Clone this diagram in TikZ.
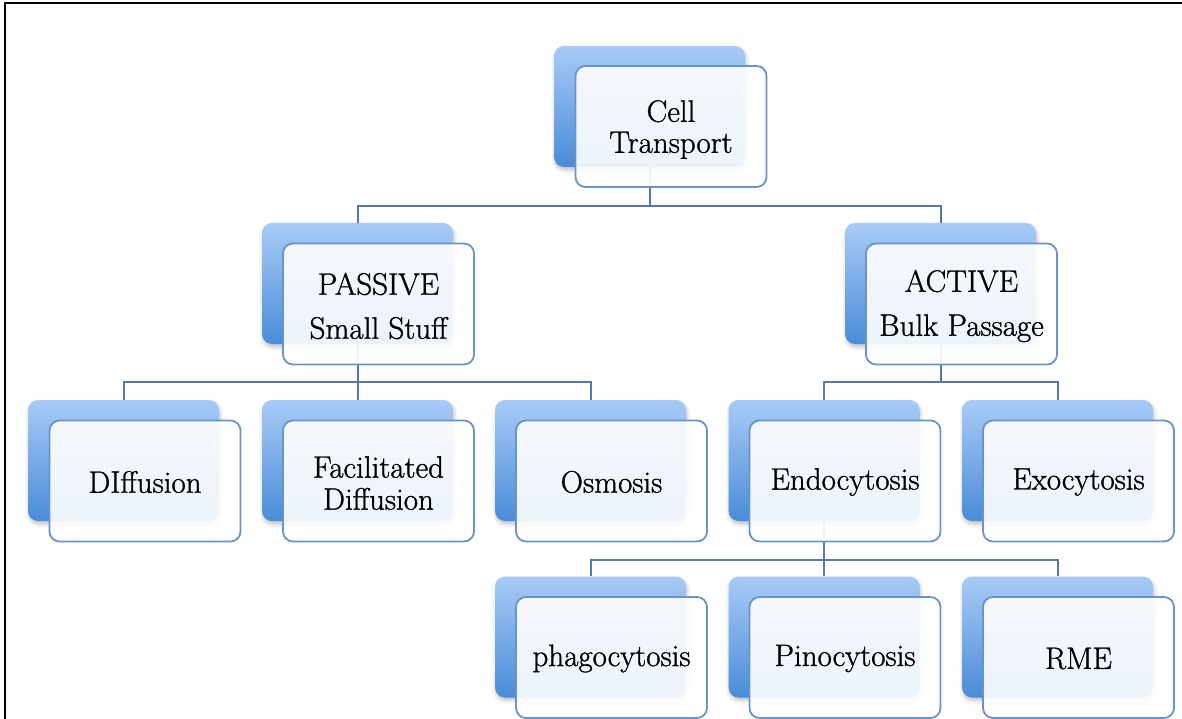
\documentclass[tikz,border=0pt]{standalone}
\usepackage{fontspec}
\newfontfamily\boxfont{Latin Modern Roman}[FakeBold=1]
\usetikzlibrary{shadows.blur}
\definecolor{backtop}{RGB}{168,203,247}
\definecolor{backbot}{RGB}{74,140,216}
\definecolor{frontedge}{RGB}{104,148,198}
\definecolor{linkc}{RGB}{84,122,172}
\begin{document}
\begin{tikzpicture}[x=1pt,y=-1pt,
  backbox/.style={rectangle, rounded corners=10pt, minimum width=191pt, minimum height=121pt, inner sep=0pt,
    top color=backtop, bottom color=backbot, draw=none,
    blur shadow={shadow xshift=1pt, shadow yshift=-3pt, shadow opacity=25, shadow blur radius=4pt}},
  frontbox/.style={rectangle, rounded corners=10pt, minimum width=191pt, minimum height=121pt, inner sep=0pt,
    draw=frontedge, line width=1.8pt, fill=white, fill opacity=0.9},
  boxtext/.style={inner sep=0pt, align=center, font=\boxfont\fontsize{31}{31}\selectfont, text=black},
  link/.style={draw=linkc, line width=2pt},
  frame/.style={draw=black, line width=2.4pt}]
\useasboundingbox (0,0) rectangle (1182,719);
\draw[frame] (5,719) -- (5,3) -- (1182,3);
% back boxes
\node[backbox] (ctb) at (649.5,106.5) {};
\node[backbox] (pb) at (357.5,283.5) {};
\node[backbox] (ab) at (940.5,283.5) {};
\node[backbox] (dfb) at (123.5,460.5) {};
\node[backbox] (fdb) at (357.5,460.5) {};
\node[backbox] (osb) at (590.5,460.5) {};
\node[backbox] (enb) at (824,460.5) {};
\node[backbox] (exb) at (1057.5,460.5) {};
\node[backbox] (phb) at (590.5,637) {};
\node[backbox] (pib) at (824,637) {};
\node[backbox] (rmb) at (1057.5,637) {};
% connectors
\draw[link] (ctb.south) -- ++(0,39) -| (pb.north);
\draw[link] (ctb.south) -- ++(0,39) -| (ab.north);
\draw[link] (pb.south) -- ++(0,38) -| (dfb.north);
\draw[link] (pb.south) -- ++(0,38) -| (fdb.north);
\draw[link] (pb.south) -- ++(0,38) -| (osb.north);
\draw[link] (ab.south) -- ++(0,38) -| (enb.north);
\draw[link] (ab.south) -- ++(0,38) -| (exb.north);
\draw[link] (enb.south) -- ++(0,39) -| (phb.north);
\draw[link] (enb.south) -- ++(0,39) -| (pib.north);
\draw[link] (enb.south) -- ++(0,39) -| (rmb.north);
% front boxes
\node[frontbox] (ct) at (671,126.5) {};
\node[frontbox] (p) at (378.5,304) {};
\node[frontbox] (a) at (961.5,304) {};
\node[frontbox] (df) at (145,481) {};
\node[frontbox] (fd) at (378.5,481) {};
\node[frontbox] (os) at (611.5,481) {};
\node[frontbox] (en) at (845,481) {};
\node[frontbox] (ex) at (1078.5,481) {};
\node[frontbox] (ph) at (611.5,657.5) {};
\node[frontbox] (pi) at (845,657.5) {};
\node[frontbox] (rm) at (1078.5,657.5) {};
% texts
\node[boxtext] (ctt) at ([yshift=-3pt]ct.center) {Cell\\Transport};
\node[boxtext] (pt) at ([yshift=-2pt]p.center) {PASSIVE\\[13pt]Small Stuff};
\node[boxtext] (at) at ([yshift=-2pt]a.center) {ACTIVE\\[13pt]Bulk Passage};
\node[boxtext] (dft) at ([yshift=-1pt]df.center) {DIffusion};
\node[boxtext] (fdt) at ([yshift=-2pt]fd.center) {Facilitated\\[1pt]Diffusion};
\node[boxtext] (ost) at ([yshift=-1pt]os.center) {Osmosis};
\node[boxtext] (ent) at ([yshift=-1pt]en.center) {Endocytosis};
\node[boxtext] (ext) at ([yshift=-1pt]ex.center) {Exocytosis};
\node[boxtext] (pht) at ([yshift=-1pt]ph.center) {phagocytosis};
\node[boxtext] (pit) at ([yshift=-1pt]pi.center) {Pinocytosis};
\node[boxtext] (rmt) at ([yshift=-1pt]rm.center) {RME};
\end{tikzpicture}
\end{document}
